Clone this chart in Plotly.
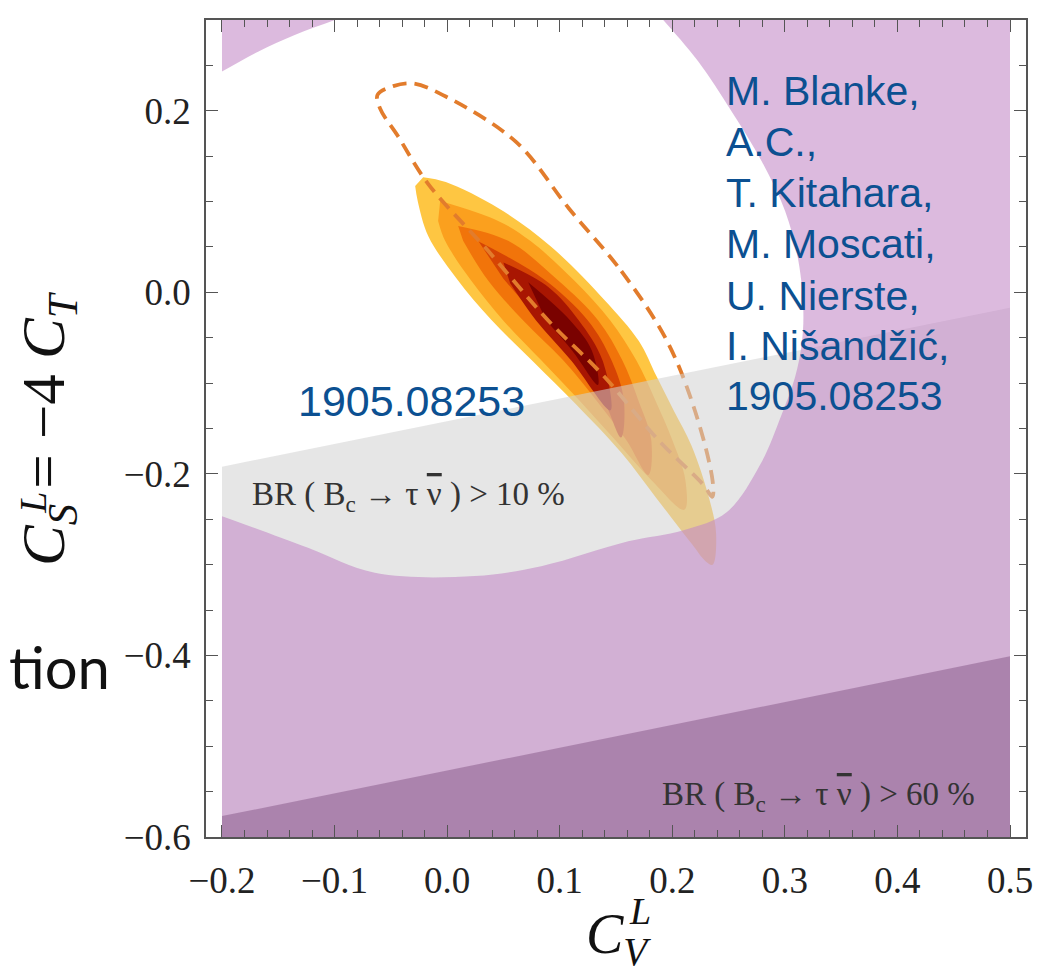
import plotly.graph_objects as go

# ---------------- data ----------------
x_major_ticks = [-0.2, -0.1, 0.0, 0.1, 0.2, 0.3, 0.4, 0.5]
y_major_ticks = [-0.6, -0.4, -0.2, 0.0, 0.2]

# BR(Bc -> tau nu) = 10 % and 60 % contour lines
br10_x = [-0.2, 0.5]
br10_y = [-0.192, -0.017]
br60_x = [-0.2, 0.5]
br60_y = [-0.577, -0.401]

# boundary of the allowed (white) region
allowed_right_x = [0.192, 0.2231, 0.2527, 0.2794, 0.3002, 0.312, 0.3164, 0.315, 0.3091,
                   0.297, 0.278, 0.2483, 0.21, 0.1609, 0.0836, 0.0246, -0.0643, -0.1236, -0.2]
allowed_right_y = [0.300, 0.2542, 0.1993, 0.1445, 0.0896, 0.0347, -0.0201, -0.0563, -0.0933,
                   -0.135, -0.19, -0.2422, -0.262, -0.2743, -0.3017, -0.3126, -0.309, -0.2815, -0.2466]
allowed_topleft_x = [-0.2, -0.168, -0.1354, -0.0998]
allowed_topleft_y = [0.2432, 0.265, 0.2835, 0.300]

# dashed contour
dashed_x = [0.108, 0.1548, 0.1953, 0.2202, 0.2358, 0.2356, 0.2276, 0.1876, 0.1391, 0.0898,
            0.0364, -0.0169, -0.0436, -0.0596, -0.0618, -0.0479, -0.0302, -0.0012, 0.0612]
dashed_y = [0.0926, 0.0233, -0.0536, -0.1307, -0.2076, -0.2252, -0.2121, -0.1627, -0.0922, -0.031,
            0.0457, 0.1195, 0.1719, 0.2026, 0.2177, 0.2272, 0.230, 0.2157, 0.1657]

# fit density, nested levels (outermost first)
blob1_x = [-0.0213, -0.0012, 0.0456, 0.0924, 0.1391, 0.1703, 0.1859, 0.2015, 0.2171, 0.2327, 0.2389,
           0.2358, 0.2295, 0.2171, 0.1859, 0.1548, 0.1142, 0.0768, 0.0394, 0.0082, -0.0167, -0.0261, -0.0284]
blob1_y = [0.1269, 0.1215, 0.0926, 0.0502, -0.0075, -0.0536, -0.0922, -0.1307, -0.169, -0.2268, -0.2653,
           -0.300, -0.2961, -0.2768, -0.2268, -0.1767, -0.1229, -0.0767, -0.0306, 0.0156, 0.0618, 0.1003, 0.117]
blob2_x = [-0.0062, 0.0453, 0.0738, 0.1129, 0.1449, 0.168, 0.1849, 0.2, 0.2116, 0.2107,
           0.1813, 0.1493, 0.1173, 0.0836, 0.0498, 0.0213, -0.0018, -0.008]
blob2_y = [0.1006, 0.0787, 0.0567, 0.0129, -0.031, -0.0749, -0.1188, -0.1627, -0.2066, -0.2395,
           -0.2066, -0.1627, -0.1188, -0.0749, -0.031, 0.0129, 0.0567, 0.0787]
blob3_x = [0.0098, 0.0542, 0.0987, 0.1342, 0.1556, 0.1698, 0.1813, 0.1787,
           0.1591, 0.1324, 0.1031, 0.0676, 0.0364, 0.0142]
blob3_y = [0.0732, 0.0567, 0.0129, -0.031, -0.0749, -0.1188, -0.1627, -0.2011,
           -0.1627, -0.1188, -0.0749, -0.031, 0.0129, 0.0567]
blob4_x = [0.028, 0.0853, 0.1250, 0.146, 0.1570, 0.1545, 0.1390, 0.1140, 0.0820, 0.0500]
blob4_y = [0.0560, 0.0150, -0.031, -0.0749, -0.1188, -0.1600, -0.1188, -0.0749, -0.031, 0.0150]
blob5_x = [0.0500, 0.0898, 0.1170, 0.1380, 0.1450, 0.1100, 0.0790, 0.0560]
blob5_y = [0.0330, 0.0060, -0.031, -0.0749, -0.1300, -0.0749, -0.031, 0.0100]
blob6_x = [0.0720, 0.1093, 0.1285, 0.1340, 0.1110, 0.0880]
blob6_y = [0.0110, -0.031, -0.064, -0.1020, -0.064, -0.031]
blob_colors = ["rgb(254,198,66)", "rgb(251,160,30)", "rgb(241,116,10)",
               "rgb(214,68,4)", "rgb(168,22,2)", "rgb(122,2,0)"]

author_lines = ["M. Blanke,", "A.C.,", "T. Kitahara,", "M. Moscati,",
                "U. Nierste,", "I. Nišandžić,", "1905.08253"]

# ---------------- layout helpers ----------------
W, H = 1041, 977
ML, MR, MT, MB = 198, 23, 10, 148
X_RANGE = [-0.2142, 0.5142]
Y_RANGE = [-0.6, 0.3]


def xp(px):
    return (px - ML) / (W - ML - MR)


def yp(py):
    return (H - MB - py) / (H - MT - MB)


fig = go.Figure()


def area(x, y, color, smooth=True):
    fig.add_trace(go.Scatter(
        x=x, y=y, mode="lines", fill="toself", fillcolor=color,
        line=dict(width=0, shape="spline" if smooth else "linear", smoothing=1),
        hoverinfo="skip", showlegend=False))


# density blob
for bx, by, col in zip([blob1_x, blob2_x, blob3_x, blob4_x, blob5_x, blob6_x],
                       [blob1_y, blob2_y, blob3_y, blob4_y, blob5_y, blob6_y], blob_colors):
    area(bx, by, col)

# dashed contour
fig.add_trace(go.Scatter(
    x=dashed_x + dashed_x[:1], y=dashed_y + dashed_y[:1], mode="lines",
    line=dict(color="rgb(226,124,44)", width=3.8, dash="14px,8px", shape="spline", smoothing=1),
    hoverinfo="skip", showlegend=False))

# BR > 10 % (grey, translucent)
area([br10_x[0], br10_x[1], br10_x[1], br10_x[0]], [br10_y[0], br10_y[1], -0.9, -0.9],
     "rgba(210,210,210,0.55)", smooth=False)

# excluded (purple) region: everything outside the allowed region
purple = "rgba(195,136,198,0.58)"
area([-0.235] + allowed_topleft_x + [-0.064, -0.03, -0.03, -0.35, -0.35],
     [0.219] + allowed_topleft_y + [0.317, 0.34, 0.6, 0.6, 0.205], purple)
area([0.145, 0.145, 0.17] + allowed_right_x + [-0.24, -0.35, -0.35, 0.9, 0.9],
     [0.6, 0.36, 0.33] + allowed_right_y + [-0.23, -0.23, -0.9, -0.9, 0.6], purple)

# BR > 60 %
area([br60_x[0], br60_x[1], br60_x[1], br60_x[0]], [br60_y[0], br60_y[1], -0.9, -0.9],
     "rgba(100,50,100,0.35)", smooth=False)

# white strips between the frame and the plotted region
area([-0.4, -0.2, -0.2, -0.4], [-0.9, -0.9, 0.6, 0.6], "white", smooth=False)
area([0.5, 0.9, 0.9, 0.5], [-0.9, -0.9, 0.6, 0.6], "white", smooth=False)

axis_common = dict(
    showgrid=False, zeroline=False, showline=True, linecolor="#555", linewidth=1.5,
    mirror="ticks", ticks="inside", ticklen=12, tickwidth=1.3, tickcolor="#555",
    tickfont=dict(family="Liberation Serif", size=37, color="#222"), tickformat=".1f",
)

fig.update_xaxes(range=X_RANGE, tickvals=x_major_ticks, ticklabelstandoff=10,
                 minor=dict(ticks="inside", ticklen=7, tickwidth=1, tickcolor="#555", dtick=0.02, tick0=0),
                 **axis_common)
fig.update_yaxes(range=Y_RANGE, tickvals=y_major_ticks, ticklabelstandoff=6,
                 minor=dict(ticks="inside", ticklen=7, tickwidth=1, tickcolor="#555", dtick=0.05, tick0=0),
                 **axis_common)

ann = []
serif = "Liberation Serif"
nubar = "<span style='text-decoration:overline'>ν</span>"
# BR labels
ann.append(dict(x=xp(242), y=yp(488), xref="paper", yref="paper", xanchor="left", yanchor="middle",
                text="BR ( B<sub>c</sub> → τ " + nubar + " ) > 10 %", showarrow=False,
                font=dict(family=serif, size=33, color="#333")))
ann.append(dict(x=xp(652), y=yp(788), xref="paper", yref="paper", xanchor="left", yanchor="middle",
                text="BR ( B<sub>c</sub> → τ " + nubar + " ) > 60 %", showarrow=False,
                font=dict(family=serif, size=33, color="#333")))

blue = "#0c5091"
line_centers = [81, 132, 183, 235, 287, 337, 387]
for txt, py in zip(author_lines, line_centers):
    ann.append(dict(x=xp(716), y=yp(py), xref="paper", yref="paper", xanchor="left", yanchor="middle",
                    text=txt, showarrow=False, font=dict(family="Liberation Sans", size=41, color=blue)))
ann.append(dict(x=xp(288), y=yp(392), xref="paper", yref="paper", xanchor="left", yanchor="middle",
                text="1905.08253", showarrow=False, font=dict(family="Liberation Sans", size=43, color=blue)))

# slide fragment at left
ann.append(dict(x=xp(104), y=yp(658), xref="paper", yref="paper", xanchor="right", yanchor="middle",
                text="tion", showarrow=False, font=dict(family="Lato", size=58, color="#111")))

# axis titles
ann.append(dict(x=xp(610), y=yp(893), xref="paper", yref="paper", xanchor="center", yanchor="top",
                text="<i>C</i><sub><i>V</i></sub>", showarrow=False,
                font=dict(family=serif, size=56, color="#111")))
ann.append(dict(x=xp(632), y=yp(903), xref="paper", yref="paper", xanchor="center", yanchor="middle",
                text="<i>L</i>", showarrow=False, font=dict(family=serif, size=38, color="#111")))
ann.append(dict(x=xp(40), y=yp(420), xref="paper", yref="paper", xanchor="center", yanchor="middle",
                text="<i>C</i><sub><i>S</i></sub> = −4 <i>C</i><sub><i>T</i></sub>", textangle=-90,
                showarrow=False, font=dict(family=serif, size=61, color="#111")))
ann.append(dict(x=xp(25), y=yp(494), xref="paper", yref="paper", xanchor="center", yanchor="middle",
                text="<i>L</i>", textangle=-90, showarrow=False, font=dict(family=serif, size=38, color="#111")))

fig.update_layout(
    width=W, height=H, margin=dict(l=ML, r=MR, t=MT, b=MB),
    paper_bgcolor="white", plot_bgcolor="white", showlegend=False, annotations=ann,
)

fig.write_html("out.html")
